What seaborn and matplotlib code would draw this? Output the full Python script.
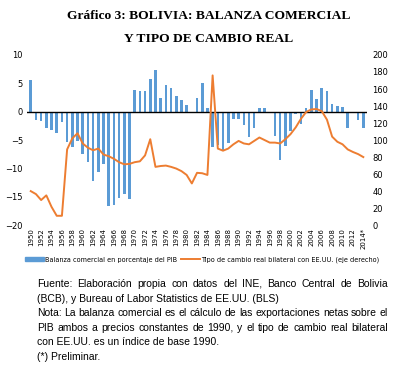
import matplotlib
matplotlib.use("Agg")
import matplotlib.pyplot as plt
import seaborn as sns
import numpy as np
import pandas as pd
from matplotlib.patches import Patch
from matplotlib.lines import Line2D

# data
years = [str(y) for y in range(1950, 2014)] + ["2014*"]
balanza = [5.6, -1.4, -1.6, -2.8, -3.2, -3.8, -1.9, -5.3, -6.3, -5.1,
           -7.5, -8.8, -12.2, -10.6, -9.2, -16.6, -16.4, -15.3, -14.5, -15.4,
           3.8, 3.6, 3.6, 5.8, 7.4, 2.4, 4.7, 4.2, 2.7, 2.1,
           1.2, 0.0, 2.5, 5.0, 0.6, -6.3, -5.9, -6.9, -5.6, -1.2,
           -1.2, -2.4, -4.5, -2.9, 0.7, 0.7, -0.2, -4.2, -8.5, -6.0,
           -3.4, -0.4, -2.2, 0.6, 3.8, 2.2, 4.1, 3.7, 1.35, 1.05,
           0.8, -2.8, -0.1, -1.5, -2.9]
tcr = [40, 36.5, 29.5, 35, 21.5, 11, 11, 89, 102, 108,
       96, 91, 88, 90, 83, 81, 78, 74, 71.5, 72,
       74, 75, 82, 101, 68.5, 69.5, 70, 68.5, 66.5, 63.5,
       59, 49, 61.5, 61, 59, 176, 90, 87.5, 90, 95,
       99, 96, 95, 99, 103, 100, 97, 97, 96, 101,
       107, 115, 125, 133, 136, 136.5, 134, 124, 104, 98,
       95, 89, 86, 83.5, 80]

df = pd.DataFrame({"anio": years, "balanza": balanza, "tcr": tcr})
df["pos"] = np.arange(len(df))

fig = plt.figure(figsize=(4.17, 3.74), dpi=100)
ax = fig.add_axes([0.065, 0.398, 0.815, 0.455])

sns.barplot(data=df, x="anio", y="balanza", color="#5B9BD5", width=0.5,
            saturation=1, ax=ax)
ax.axhline(0, color="black", lw=1, zorder=3)
ax.set_ylim(-20, 10)
ax.set_yticks([-20, -15, -10, -5, 0, 5, 10])
ax.set_xlim(-0.7, len(df) - 0.3)
ax.set_xticks(df["pos"][::2])
ax.set_xticklabels(df["anio"][::2], rotation=90, fontsize=5)
ax.set_xlabel("")
ax.set_ylabel("")
ax.tick_params(axis="y", labelsize=6, length=0, pad=3)
ax.tick_params(axis="x", length=0, pad=2)

ax2 = ax.twinx()
sns.lineplot(data=df, x="pos", y="tcr", color="#ED7D31", lw=1.4, ax=ax2)
ax2.set_ylim(0, 200)
ax2.set_yticks(range(0, 201, 20))
ax2.tick_params(axis="y", labelsize=6, length=0, pad=4)
ax2.set_xlabel("")
ax2.set_ylabel("")

for a in (ax, ax2):
    for s in a.spines.values():
        s.set_visible(False)

# legend
handles = [Patch(color="#5B9BD5"), Line2D([], [], color="#ED7D31", lw=1.4)]
labels = ["Balanza comercial en porcentaje del PIB",
          "Tipo de cambio real bilateral con EE.UU. (eje derecho)"]
fig.legend(handles, labels, loc="center", bbox_to_anchor=(0.485, 0.305), ncol=2,
           frameon=False, fontsize=4.7, handlelength=2.9, handleheight=0.6,
           columnspacing=0.6, handletextpad=0.2)

fig.text(0.5, 0.958, "Gráfico 3: BOLIVIA: BALANZA COMERCIAL", ha="center",
         va="center", fontsize=9.7, fontweight="bold", family="Liberation Serif")
fig.text(0.5, 0.897, "Y TIPO DE CAMBIO REAL", ha="center",
         va="center", fontsize=9.7, fontweight="bold", family="Liberation Serif")

# footnote, justified like the original
notas = ["Fuente: Elaboración propia con datos del INE, Banco Central de Bolivia",
         "(BCB), y Bureau of Labor Statistics de EE.UU. (BLS)",
         "Nota: La balanza comercial es el cálculo de las exportaciones netas sobre el",
         "PIB ambos a precios constantes de 1990, y el tipo de cambio real bilateral",
         "con EE.UU. es un índice de base 1990.",
         "(*) Preliminar."]
justificar = [True, False, True, True, False, False]
x0, x1 = 37, 388
renderer = fig.canvas.get_renderer()
for i, t in enumerate(notas):
    y = 1 - (284 + i * 14.6) / 374
    if not justificar[i]:
        fig.text(x0 / 417, y, t, ha="left", va="center", fontsize=7.5,
                 family="Liberation Sans")
        continue
    palabras = t.split()
    objs = [fig.text(0, y, w, ha="left", va="center", fontsize=7.5,
                     family="Liberation Sans") for w in palabras]
    anchos = [o.get_window_extent(renderer).width for o in objs]
    hueco = (x1 - x0 - sum(anchos)) / (len(palabras) - 1)
    x = x0
    for o, w in zip(objs, anchos):
        o.set_x(x / 417)
        x += w + hueco

fig.savefig("out.png", dpi=100)
